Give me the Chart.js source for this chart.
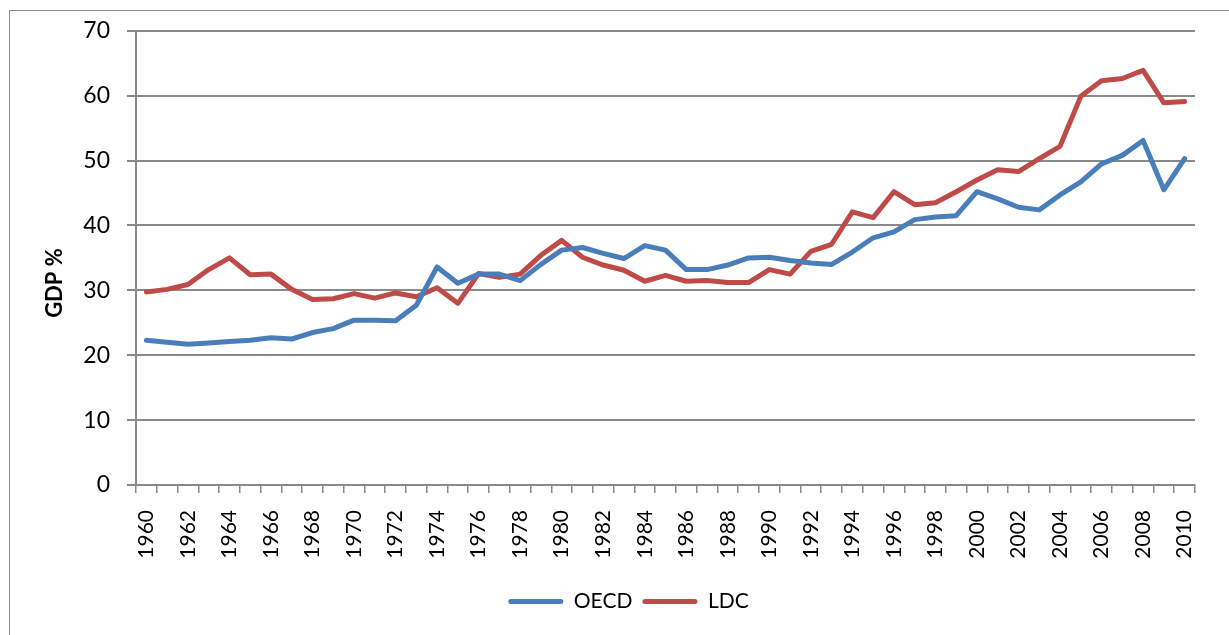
<!DOCTYPE html>
<html>
<head>
<meta charset="utf-8">
<script src="https://cdn.jsdelivr.net/npm/chart.js@4.4.1/dist/chart.umd.min.js"></script>
<style>
  html, body { margin: 0; padding: 0; background: #ffffff; overflow: hidden; }
  #wrap { position: relative; width: 1229px; height: 635px; overflow: hidden; }
  #frame { position: absolute; left: 9px; top: 10px; width: 1300px; height: 700px;
           border-left: 1.5px solid #8a8a8a; border-top: 1.5px solid #8a8a8a; }
  #c { position: absolute; left: 0; top: 0; }
</style>
</head>
<body>
<div id="wrap">
  <div id="frame"></div>
  <canvas id="c" width="1229" height="635"></canvas>
</div>
<script>
const years = ["1960","1961","1962","1963","1964","1965","1966","1967","1968","1969",
  "1970","1971","1972","1973","1974","1975","1976","1977","1978","1979",
  "1980","1981","1982","1983","1984","1985","1986","1987","1988","1989",
  "1990","1991","1992","1993","1994","1995","1996","1997","1998","1999",
  "2000","2001","2002","2003","2004","2005","2006","2007","2008","2009","2010"];

const oecd = [22.3, 22.0, 21.7, 21.9, 22.1, 22.3, 22.7, 22.5, 23.5, 24.1,
  25.4, 25.4, 25.3, 27.7, 33.6, 31.1, 32.5, 32.5, 31.5, 34.0,
  36.2, 36.6, 35.7, 34.9, 36.9, 36.2, 33.2, 33.2, 33.9, 35.0,
  35.1, 34.6, 34.2, 34.0, 35.9, 38.1, 39.0, 40.9, 41.3, 41.5,
  45.2, 44.1, 42.8, 42.4, 44.7, 46.7, 49.5, 50.8, 53.1, 45.5, 50.3];

const ldc = [29.75, 30.15, 30.9, 33.2, 35.0, 32.4, 32.5, 30.15, 28.6, 28.7,
  29.5, 28.8, 29.6, 29.0, 30.4, 28.0, 32.6, 32.0, 32.5, 35.4,
  37.7, 35.1, 33.9, 33.1, 31.4, 32.3, 31.4, 31.5, 31.2, 31.2,
  33.2, 32.5, 36.0, 37.1, 42.1, 41.2, 45.2, 43.2, 43.5, 45.2,
  47.0, 48.6, 48.3, 50.3, 52.2, 59.9, 62.3, 62.65, 63.9, 58.9, 59.1];

const yTicks = [0, 10, 20, 30, 40, 50, 60, 70];
const yTitle = "GDP %";

const FONT = "Lato, 'DejaVu Sans', sans-serif";
const GRID = "#898989";

const yTitlePlugin = {
  id: 'yTitlePlugin',
  afterDraw(chart) {
    const ctx = chart.ctx;
    ctx.save();
    ctx.translate(55, 283);
    ctx.rotate(-Math.PI / 2);
    ctx.font = "bold 22px " + FONT;
    ctx.fillStyle = "#000";
    ctx.textAlign = "center";
    ctx.textBaseline = "middle";
    ctx.fillText(yTitle, 0, 0);
    ctx.restore();
  }
};

new Chart(document.getElementById('c'), {
  type: 'line',
  data: {
    labels: years,
    datasets: [
      { label: 'OECD', data: oecd, borderColor: '#4A7EBB', backgroundColor: '#4A7EBB',
        borderWidth: 5, pointRadius: 0, pointHoverRadius: 0, tension: 0, fill: false,
        borderJoinStyle: 'round', borderCapStyle: 'round' },
      { label: 'LDC', data: ldc, borderColor: '#BE4B48', backgroundColor: '#BE4B48',
        borderWidth: 5, pointRadius: 0, pointHoverRadius: 0, tension: 0, fill: false,
        borderJoinStyle: 'round', borderCapStyle: 'round' }
    ]
  },
  options: {
    responsive: false,
    animation: false,
    devicePixelRatio: 1,
    layout: { padding: { left: 62, right: 34, top: 28.6, bottom: 13 } },
    plugins: {
      tooltip: { enabled: false },
      title: { display: false },
      legend: {
        position: 'bottom',
        align: 'center',
        labels: {
          boxWidth: 55,
          boxHeight: 5,
          padding: 10,
          color: '#000',
          useBorderRadius: true,
          borderRadius: 2.5,
          font: { family: FONT, size: 21 },
          generateLabels: (chart) => chart.data.datasets.map((ds, i) => ({
            text: ds.label,
            fillStyle: ds.borderColor,
            strokeStyle: ds.borderColor,
            lineWidth: 0,
            hidden: false,
            datasetIndex: i,
            borderRadius: 2.5
          }))
        }
      }
    },
    scales: {
      x: {
        type: 'category',
        offset: true,
        afterFit: (s) => { s.height = 96; },
        grid: { offset: true, drawOnChartArea: false, drawTicks: true, tickLength: 8,
                color: GRID, lineWidth: 1.5 },
        border: { display: true, color: GRID, width: 2 },
        ticks: {
          autoSkip: false,
          minRotation: 90,
          maxRotation: 90,
          padding: 17,
          color: '#000',
          font: { family: FONT, size: 21 },
          callback: function (value, index) {
            return index % 2 === 0 ? this.getLabelForValue(value) : '';
          }
        }
      },
      y: {
        min: 0,
        max: 70,
        afterFit: (s) => { s.width = 74; },
        afterBuildTicks: (s) => { s.ticks = yTicks.map(v => ({ value: v })); },
        grid: { color: GRID, lineWidth: 2, drawTicks: true, tickLength: 9 },
        border: { display: true, color: GRID, width: 2 },
        ticks: {
          padding: 17,
          color: '#000',
          font: { family: FONT, size: 23 }
        }
      }
    }
  },
  plugins: [yTitlePlugin]
});
</script>
</body>
</html>
